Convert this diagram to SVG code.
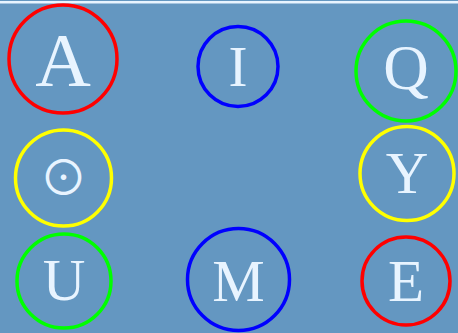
<svg xmlns="http://www.w3.org/2000/svg" width="458" height="333" viewBox="0 0 458 333">
<style>
.ring{fill:none;stroke-width:3.5}
.lbl{font-family:"Liberation Serif","DejaVu Serif",serif;fill:#e8f4ff;text-anchor:middle}
.sym{font-family:"Noto Sans CJK SC","DejaVu Sans",sans-serif;fill:#e8f4ff;text-anchor:middle}
</style>
<rect x="0" y="0" width="458" height="333" fill="#6497c1"/>
<rect x="0" y="1" width="458" height="2.5" fill="#e8f4ff"/>
<g id="node-A"><circle class="ring" cx="63" cy="59" r="54" stroke="#ff0000"/><text class="lbl" x="63" y="86" font-size="77">A</text></g>
<g id="node-I"><circle class="ring" cx="238" cy="66.5" r="40" stroke="#0000ff"/><text class="lbl" x="238" y="86" font-size="57">I</text></g>
<g id="node-Q"><circle class="ring" cx="406" cy="71" r="50" stroke="#00ff00"/><text class="lbl" x="406" y="89" font-size="63">Q</text></g>
<g id="node-dot"><circle class="ring" cx="63.5" cy="178" r="48" stroke="#ffff00"/><text class="sym" x="63.5" y="195" font-size="48">⊙</text></g>
<g id="node-Y"><circle class="ring" cx="407" cy="173.5" r="47" stroke="#ffff00"/><text class="lbl" x="407" y="193" font-size="59">Y</text></g>
<g id="node-U"><circle class="ring" cx="64" cy="281" r="47" stroke="#00ff00"/><text class="lbl" x="64" y="300" font-size="59">U</text></g>
<g id="node-M"><circle class="ring" cx="238.5" cy="279.5" r="51" stroke="#0000ff"/><text class="lbl" x="238.5" y="301" font-size="59">M</text></g>
<g id="node-E"><circle class="ring" cx="406" cy="281" r="44" stroke="#ff0000"/><text class="lbl" x="406" y="301" font-size="59">E</text></g>
<g id="connectors"></g>
</svg>
